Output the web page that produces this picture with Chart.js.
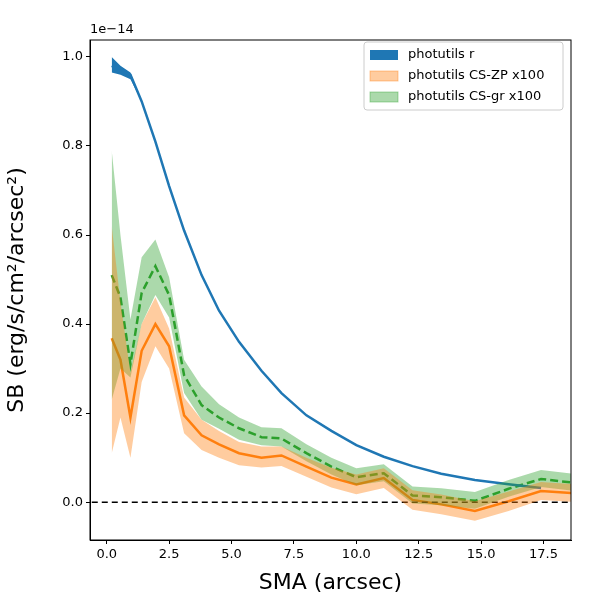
<!DOCTYPE html>
<html>
<head>
<script src="https://cdn.jsdelivr.net/npm/chart.js@4"></script>
<style>body{margin:0;background:#fff}</style>
</head>
<body>
<canvas id="chart" width="600" height="600"></canvas>
<script>
// values in units of 1e-14
const sma = [0.2, 0.55, 0.95, 1.4, 1.95, 2.5, 3.1, 3.8, 4.5, 5.3, 6.2, 7.0, 8.0, 9.0, 10.0, 11.1, 12.25, 13.4, 14.75, 16.1, 17.4, 18.8];
const rMid = [0.98, 0.97, 0.96, 0.9, 0.81, 0.71, 0.61, 0.51, 0.43, 0.36, 0.295, 0.245, 0.195, 0.16, 0.128, 0.102, 0.081, 0.064, 0.05, 0.04, 0.032, null];
const rLow = [0.965, 0.96, 0.95, 0.9, 0.81, 0.71, 0.61, 0.51, 0.43, 0.36, 0.295, 0.245, 0.195, 0.16, 0.128, 0.102, 0.081, 0.064, 0.05, 0.04, 0.032, null];
const rHigh = [1.0, 0.98, 0.965, 0.9, 0.81, 0.71, 0.61, 0.51, 0.43, 0.36, 0.295, 0.245, 0.195, 0.16, 0.128, 0.102, 0.081, 0.064, 0.05, 0.04, 0.032, null];
const zpMid = [0.368, 0.32, 0.19, 0.34, 0.40, 0.35, 0.195, 0.15, 0.13, 0.11, 0.10, 0.105, 0.08, 0.055, 0.04, 0.054, 0.005, -0.005, -0.02, 0.002, 0.025, 0.02];
const zpLow = [0.11, 0.19, 0.10, 0.27, 0.35, 0.30, 0.155, 0.117, 0.10, 0.083, 0.078, 0.081, 0.057, 0.033, 0.018, 0.032, -0.017, -0.027, -0.042, -0.02, 0.005, 0.0];
const zpHigh = [0.62, 0.45, 0.29, 0.40, 0.46, 0.39, 0.235, 0.185, 0.16, 0.135, 0.125, 0.125, 0.10, 0.077, 0.062, 0.076, 0.027, 0.017, 0.002, 0.024, 0.045, 0.04];
const grMid = [0.51, 0.46, 0.31, 0.47, 0.53, 0.465, 0.285, 0.218, 0.19, 0.166, 0.146, 0.143, 0.11, 0.08, 0.056, 0.065, 0.015, 0.011, 0.003, 0.03, 0.052, 0.043];
const grLow = [0.23, 0.30, 0.28, 0.40, 0.465, 0.415, 0.245, 0.185, 0.165, 0.14, 0.128, 0.125, 0.092, 0.062, 0.038, 0.047, -0.003, -0.007, -0.015, 0.012, 0.034, 0.025];
const grHigh = [0.79, 0.60, 0.41, 0.55, 0.59, 0.505, 0.32, 0.26, 0.22, 0.19, 0.168, 0.166, 0.13, 0.1, 0.076, 0.085, 0.035, 0.031, 0.023, 0.05, 0.072, 0.063];
const xTicks = [0, 2.5, 5, 7.5, 10, 12.5, 15, 17.5];
const yTicks = [0, 0.2, 0.4, 0.6, 0.8, 1.0];
const legendNames = ["photutils r", "photutils CS-ZP x100", "photutils CS-gr x100"];

const pts = arr => sma.map((x, i) => ({x, y: arr[i]}));
const blue = "#1f77b4", orange = "#ff7f0e", green = "#2ca02c";
const fills = [blue, "rgba(255,127,14,0.4)", "rgba(44,160,44,0.4)"];
const band = (lo, hi, c) => [
  {data: pts(lo), borderWidth: 0, pointRadius: 0, fill: false},
  {data: pts(hi), borderWidth: 0, pointRadius: 0, fill: "-1", backgroundColor: c}
];

const datasets = [
  ...band(rLow, rHigh, blue),
  ...band(zpLow, zpHigh, fills[1]),
  ...band(grLow, grHigh, fills[2]),
  {data: [{x: -1, y: 0}, {x: 20, y: 0}], borderColor: "#000", borderWidth: 1.5, borderDash: [6, 4], pointRadius: 0, fill: false},
  {data: pts(rMid), borderColor: blue, borderWidth: 2.5, pointRadius: 0, fill: false},
  {data: pts(zpMid), borderColor: orange, borderWidth: 2.5, pointRadius: 0, fill: false},
  {data: pts(grMid), borderColor: green, borderWidth: 2.5, borderDash: [8, 4], pointRadius: 0, fill: false}
];

const extras = {
  id: "extras",
  afterDraw(chart) {
    const {ctx, chartArea: a} = chart;
    ctx.save();
    ctx.strokeStyle = "#000";
    ctx.lineWidth = 1;
    ctx.strokeRect(a.left, a.top, a.right - a.left, a.bottom - a.top);
    ctx.font = "13px 'DejaVu Sans'";
    ctx.fillStyle = "#000";
    ctx.textAlign = "left";
    ctx.textBaseline = "bottom";
    ctx.fillText("1e\u221214", a.left, a.top - 4);
    // legend
    const w = 199, h = 68, x0 = a.right - w - 8, y0 = a.top + 2;
    ctx.fillStyle = "rgba(255,255,255,0.85)";
    ctx.strokeStyle = "#ccc";
    ctx.beginPath();
    ctx.roundRect(x0, y0, w, h, 3);
    ctx.fill(); ctx.stroke();
    ctx.textBaseline = "middle";
    legendNames.forEach((n, i) => {
      const yy = y0 + 13 + i * 21;
      ctx.fillStyle = fills[i];
      ctx.fillRect(x0 + 6, yy - 5, 28, 10);
      if (i > 0) { ctx.strokeStyle = fills[i]; ctx.strokeRect(x0 + 6, yy - 5, 28, 10); }
      ctx.fillStyle = "#000";
      ctx.fillText(n, x0 + 44, yy);
    });
    ctx.restore();
  }
};

const tickGrid = {drawOnChartArea: false, drawTicks: true, tickLength: 4, color: "#000"};

new Chart(document.getElementById("chart"), {
  type: "line",
  data: {datasets},
  plugins: [extras],
  options: {
    responsive: false,
    animation: false,
    layout: {padding: {top: 40, right: 29, left: 0, bottom: 0}},
    plugins: {legend: {display: false}, tooltip: {enabled: false}},
    scales: {
      x: {
        type: "linear", min: -0.67, max: 18.6,
        border: {color: "#000", width: 1},
        grid: tickGrid,
        ticks: {color: "#000", font: {size: 13, family: "DejaVu Sans"}, callback: v => v.toFixed(1)},
        title: {display: true, text: "SMA (arcsec)", color: "#000", font: {size: 22, family: "DejaVu Sans"}, padding: {top: 4}},
        afterBuildTicks: s => { s.ticks = xTicks.map(v => ({value: v})); },
        afterFit: s => { s.height = 60; }
      },
      y: {
        min: -0.085, max: 1.038,
        border: {color: "#000", width: 1},
        grid: tickGrid,
        ticks: {color: "#000", font: {size: 13, family: "DejaVu Sans"}, callback: v => v.toFixed(1)},
        afterBuildTicks: s => { s.ticks = yTicks.map(v => ({value: v})); },
        title: {display: true, text: "SB (erg/s/cm\u00b2/arcsec\u00b2)", color: "#000", font: {size: 22, family: "DejaVu Sans"}, padding: {bottom: 6}},
        afterFit: s => { s.width = 90; }
      }
    }
  }
});
</script>
</body>
</html>
